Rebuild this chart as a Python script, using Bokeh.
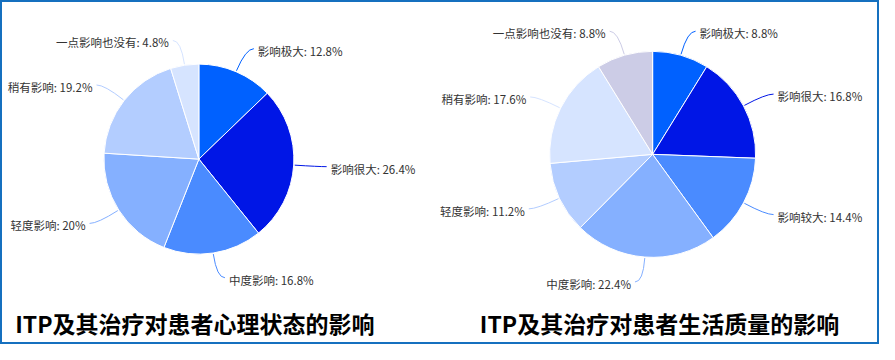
import math
from bokeh.plotting import figure
from bokeh.models import Range1d, ColumnDataSource
from bokeh.core.properties import value
from bokeh.embed import file_html
from bokeh.resources import INLINE

# ---- data ----
left_title = "ITP及其治疗对患者心理状态的影响"
left_labels = ["影响极大", "影响很大", "中度影响", "轻度影响", "稍有影响", "一点影响也没有"]
left_values = [12.8, 26.4, 16.8, 20, 19.2, 4.8]
left_colors = ["#0061FF", "#0016E6", "#4A8BFF", "#85B0FF", "#B3CDFF", "#D6E4FF"]

right_title = "ITP及其治疗对患者生活质量的影响"
right_labels = ["影响极大", "影响很大", "影响较大", "中度影响", "轻度影响", "稍有影响", "一点影响也没有"]
right_values = [8.8, 16.8, 14.4, 22.4, 11.2, 17.6, 8.8]
right_colors = ["#0061FF", "#0016E6", "#4A8BFF", "#85B0FF", "#B3CDFF", "#D6E4FF", "#CCCCE6"]

# ---- layout (reference-space units 895 x 360) ----
W, H = 879, 344
RW, RH = 895, 360
sx = RW / W   # data units per screen px (x)
sy = RH / H   # data units per screen px (y)

FONT = "Noto Sans CJK SC"

p = figure(width=W, height=H, output_backend="svg", toolbar_location=None,
           x_range=Range1d(0, RW), y_range=Range1d(0, RH),
           min_border=0, tools="")
p.axis.visible = False
p.grid.visible = False
p.background_fill_color = "white"
p.border_fill_color = "white"
p.outline_line_color = "#1570BF"
p.outline_line_width = 3


def draw_pie(cx_ref, cy_ref, r_px, labels, values, colors):
    cx = cx_ref
    cy = RH - cy_ref
    total = sum(values)
    starts, ends = [], []
    lx0, ly0, lx1, ly1, lcx, lcy = [], [], [], [], [], []
    tx_l, ty_l, tt_l, tx_r, ty_r, tt_r = [], [], [], [], [], []
    cum = 0.0
    for lab, v in zip(labels, values):
        c0 = cum / total
        cum += v
        c1 = cum / total
        starts.append(math.pi / 2 - 2 * math.pi * c1)
        ends.append(math.pi / 2 - 2 * math.pi * c0)
        mid = (c0 + c1) / 2 * 2 * math.pi  # clockwise from top
        s, c = math.sin(mid), math.cos(mid)
        r1 = r_px + 1
        r2 = r_px + 25
        x1 = cx + r1 * s * sx
        y1 = cy + r1 * c * sy
        x2 = cx + r2 * s * sx
        y2 = cy + r2 * c * sy
        side = 1 if s >= 0 else -1
        x3 = x2 + side * 8 * sx
        y3 = y2
        lx0.append(x1); ly0.append(y1)
        lcx.append(x2); lcy.append(y2)
        lx1.append(x3); ly1.append(y3)
        txt = f"{lab}: {v:g}%"
        if side > 0:
            tx_r.append(x3 + 4 * sx); ty_r.append(y3 - 2 * sy); tt_r.append(txt)
        else:
            tx_l.append(x3 - 4 * sx); ty_l.append(y3 - 2 * sy); tt_l.append(txt)

    src = ColumnDataSource(dict(x=[cx] * len(values), y=[cy] * len(values),
                                start=starts, end=ends, color=colors))
    p.wedge(x="x", y="y", radius=r_px, radius_units="screen",
            start_angle="start", end_angle="end", direction="anticlock",
            fill_color="color", line_color="white", line_width=1, source=src)
    p.quadratic(x0=lx0, y0=ly0, x1=lx1, y1=ly1, cx=lcx, cy=lcy,
                line_color=colors, line_width=1)
    p.text(x=tx_r, y=ty_r, text=tt_r, text_font=value(FONT), text_font_size="11.5px",
           text_color="#333333", text_align="left", text_baseline="middle")
    p.text(x=tx_l, y=ty_l, text=tt_l, text_font=value(FONT), text_font_size="11.5px",
           text_color="#333333", text_align="right", text_baseline="middle")


draw_pie(202, 166, 95, left_labels, left_values, left_colors)
draw_pie(664, 161, 103, right_labels, right_values, right_colors)

p.text(x=[15], y=[RH - 337], text=[left_title], text_font=value(FONT),
       text_font_size="23px", text_font_style="bold", text_color="#000000",
       text_align="left", text_baseline="middle")
p.text(x=[671], y=[RH - 337], text=[right_title], text_font=value(FONT),
       text_font_size="23px", text_font_style="bold", text_color="#000000",
       text_align="center", text_baseline="middle")

open("out.html", "w").write(file_html(p, INLINE))
